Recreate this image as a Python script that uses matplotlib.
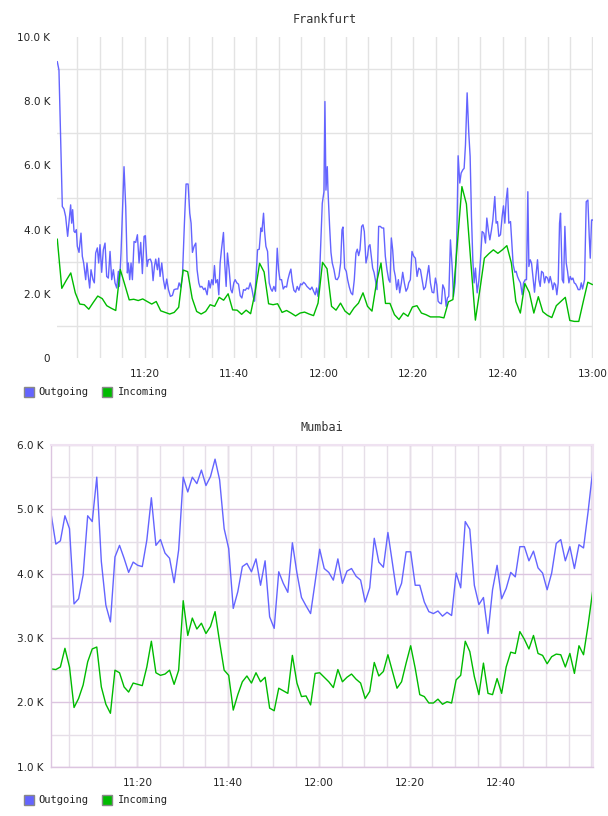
import matplotlib

matplotlib.use("Agg")

import matplotlib.pyplot as plt
import numpy as np
from matplotlib.patches import Rectangle

# ---------------- Frankfurt (minutes after 11:00, values in K) ----------------
fra_out_pts = [
    (0.52, 9.23), (0.89, 8.97), (1.64, 4.72), (2.01, 4.64), (2.38, 4.41), (2.83, 3.79),
    (3.50, 4.77), (3.73, 4.20), (3.95, 4.62), (4.25, 3.95), (4.47, 3.91), (4.77, 4.00),
    (4.99, 3.48), (5.37, 3.29), (5.81, 3.89), (6.11, 3.17), (6.41, 2.96), (6.86, 2.44),
    (7.15, 2.96), (7.45, 2.54), (7.75, 2.18), (8.05, 2.75), (8.49, 2.44), (8.79, 2.34),
    (9.09, 3.27), (9.46, 3.43), (9.76, 2.96), (10.06, 3.53), (10.43, 2.67), (10.80, 3.37),
    (11.18, 3.58), (11.55, 2.54), (11.92, 2.49), (12.30, 3.32), (12.67, 2.44), (13.04, 2.75),
    (13.41, 2.34), (13.79, 2.18), (14.16, 2.70), (14.38, 2.23), (14.75, 3.27), (15.42, 5.96),
    (15.80, 4.71), (16.17, 2.65), (16.39, 2.96), (16.69, 2.44), (16.99, 2.96), (17.29, 2.44),
    (17.66, 3.63), (18.03, 3.60), (18.41, 3.84), (18.78, 2.96), (19.15, 3.60), (19.52, 2.63),
    (19.90, 3.79), (20.19, 3.81), (20.57, 2.85), (20.86, 3.06), (21.31, 3.08), (21.61, 2.96),
    (21.91, 2.41), (22.21, 2.85), (22.50, 3.08), (22.88, 2.75), (23.17, 3.11), (23.47, 2.54),
    (23.85, 2.96), (24.22, 2.44), (24.59, 2.15), (24.96, 2.46), (25.34, 2.13), (25.78, 1.92),
    (26.23, 1.95), (26.60, 2.13), (27.05, 2.15), (27.42, 2.15), (27.72, 2.34), (28.09, 2.21),
    (28.47, 2.54), (28.91, 4.20), (29.28, 5.42), (29.73, 5.42), (30.10, 4.51), (30.40, 4.20),
    (30.70, 3.29), (31.07, 3.48), (31.45, 3.58), (31.74, 2.75), (32.12, 2.34), (32.41, 2.21),
    (32.79, 2.23), (33.23, 2.13), (33.53, 2.18), (33.98, 1.97), (34.35, 2.41), (34.65, 2.18),
    (35.02, 2.44), (35.32, 2.28), (35.62, 2.88), (35.92, 2.34), (36.29, 2.44), (36.59, 1.97),
    (36.89, 2.96), (37.18, 3.37), (37.63, 3.91), (37.93, 2.91), (38.23, 2.23), (38.52, 3.27),
    (38.90, 2.75), (39.27, 2.13), (39.57, 2.03), (39.94, 2.34), (40.24, 2.44),
    (40.62, 2.34), (40.99, 2.30), (41.37, 1.94), (41.74, 1.87), (42.11, 2.13), (42.49, 2.11),
    (42.86, 2.18), (43.23, 2.15), (43.60, 2.34), (43.98, 2.15), (44.35, 1.87), (44.57, 1.77),
    (44.87, 2.44), (45.24, 3.37), (45.62, 3.39), (45.99, 4.05), (46.21, 3.94), (46.58, 4.51),
    (46.81, 3.94), (47.11, 3.48), (47.48, 3.32), (47.85, 2.34), (48.22, 2.15), (48.52, 2.08),
    (48.89, 2.23), (49.27, 2.08), (49.64, 3.42), (49.94, 2.75), (50.24, 2.44), (50.61, 2.44),
    (50.98, 2.15), (51.35, 2.23), (51.73, 2.21), (52.02, 2.44), (52.40, 2.65), (52.69, 2.77),
    (52.99, 2.39), (53.36, 2.11), (53.74, 2.05), (54.11, 2.23), (54.48, 2.11), (54.85, 2.31),
    (55.15, 2.28), (55.53, 2.36), (55.90, 2.31), (56.27, 2.23), (56.64, 2.18), (57.02, 2.13),
    (57.39, 2.21), (57.76, 2.08), (58.13, 1.97), (58.43, 2.18), (58.73, 1.92), (59.03, 2.34),
    (59.33, 3.48), (59.70, 4.82), (60.07, 5.18), (60.29, 7.99), (60.52, 5.23), (60.82, 5.96),
    (60.97, 5.23), (61.34, 4.09), (61.64, 3.29), (61.93, 2.96), (62.31, 2.75), (62.68, 2.46),
    (63.05, 2.44), (63.42, 2.54), (63.80, 2.96), (64.10, 3.99), (64.32, 4.08), (64.69, 2.80),
    (65.06, 2.70), (65.36, 2.44), (65.73, 2.21), (66.11, 2.03), (66.48, 1.97), (66.85, 2.44),
    (67.22, 3.27), (67.52, 3.39), (67.82, 3.19), (68.12, 3.37), (68.49, 4.10), (68.79, 4.15),
    (69.09, 3.94), (69.46, 2.96), (69.83, 3.20), (70.06, 3.48), (70.35, 3.53), (70.65, 3.17),
    (70.95, 2.80), (71.25, 2.67), (71.55, 2.44), (71.92, 2.13), (72.29, 4.10), (72.66, 4.10),
    (73.04, 4.05), (73.41, 4.05), (73.78, 3.17), (74.15, 2.75), (74.53, 2.44), (74.83, 2.36),
    (75.12, 3.74), (75.42, 3.37), (75.72, 2.75), (76.02, 2.54), (76.32, 2.13), (76.69, 2.44),
    (76.99, 2.03), (77.36, 2.34), (77.66, 2.67), (78.03, 2.34), (78.40, 2.08), (78.77, 2.18),
    (79.00, 2.34), (79.37, 2.44), (79.74, 3.32), (80.12, 3.17), (80.49, 3.11),
    (80.87, 2.54), (81.25, 2.80), (81.62, 2.75), (81.99, 2.45), (82.36, 2.13), (82.74, 2.21),
    (83.11, 2.54), (83.48, 2.88), (83.85, 2.34), (84.23, 2.05), (84.60, 2.03), (84.97, 2.49),
    (85.27, 2.28), (85.57, 1.77), (85.94, 1.71), (86.31, 1.69), (86.61, 2.28), (86.98, 2.15),
    (87.36, 1.61), (87.65, 1.87), (87.95, 1.92), (88.32, 3.68), (88.70, 2.85), (88.99, 1.92),
    (89.37, 2.34), (89.74, 3.68), (90.04, 6.30), (90.41, 5.45), (90.71, 5.76), (91.08, 5.86),
    (91.38, 5.91), (91.68, 6.64), (92.05, 8.26), (92.42, 7.00), (92.72, 6.28), (93.02, 4.41),
    (93.32, 3.06), (93.61, 2.34), (93.91, 2.80), (94.29, 2.03), (94.66, 2.40), (95.03, 3.06),
    (95.40, 3.94), (95.78, 3.89), (96.15, 3.58), (96.45, 4.36), (96.82, 3.94), (97.12, 3.68),
    (97.49, 3.99), (97.79, 4.30), (98.23, 5.03), (98.53, 4.20), (98.83, 4.25), (99.13, 3.79),
    (99.50, 3.84), (99.87, 4.41), (100.17, 4.74), (100.47, 4.20), (100.77, 4.92), (101.07, 5.29),
    (101.36, 4.20), (101.74, 4.25), (102.04, 3.58), (102.33, 2.91), (102.71, 2.67), (103.00, 2.70),
    (103.30, 2.54), (103.60, 2.44), (103.97, 2.34), (104.35, 1.97), (104.64, 2.34), (105.02, 2.44),
    (105.31, 2.44), (105.61, 5.18), (105.84, 2.85), (106.13, 3.06), (106.43, 2.96), (106.80, 2.44),
    (107.10, 2.05), (107.40, 2.54), (107.77, 3.06), (108.07, 2.44), (108.37, 2.23), (108.67, 2.70),
    (109.04, 2.65), (109.34, 2.34), (109.64, 2.54), (110.01, 2.49), (110.31, 2.34), (110.60, 2.54),
    (110.90, 2.36), (111.20, 2.13), (111.50, 2.34), (111.80, 2.28), (112.09, 1.97), (112.39, 2.34),
    (112.69, 4.20), (112.91, 4.51), (113.29, 2.44), (113.59, 2.34), (113.88, 4.10), (114.18, 2.96),
    (114.48, 2.70), (114.78, 2.34), (115.08, 2.54), (115.37, 2.44), (115.67, 2.49), (115.97, 2.34),
    (116.27, 2.31), (116.57, 2.23), (116.86, 2.13), (117.24, 2.13), (117.54, 2.34), (117.83, 2.15),
    (118.28, 2.44), (118.65, 4.87), (119.02, 4.92), (119.32, 3.79), (119.55, 3.11), (119.84, 4.30),
    (120.05, 4.30),
]

fra_in = [
    3.70, 2.17, 2.42, 2.65, 2.03, 1.68, 1.66, 1.52, 1.73, 1.93,
    1.85, 1.63, 1.55, 1.48, 2.76, 2.29, 1.81, 1.83, 1.79, 1.84,
    1.76, 1.68, 1.76, 1.47, 1.42, 1.37, 1.42, 1.58, 2.74, 2.69,
    1.86, 1.45, 1.37, 1.45, 1.66, 1.61, 1.89, 1.80, 2.00, 1.50,
    1.49, 1.36, 1.49, 1.38, 2.05, 2.95, 2.68, 1.69, 1.66, 1.69,
    1.42, 1.48, 1.40, 1.31, 1.40, 1.43, 1.37, 1.32, 1.71, 2.98,
    2.78, 1.61, 1.49, 1.71, 1.46, 1.35, 1.56, 1.71, 2.03, 1.61,
    1.46, 2.34, 2.96, 1.70, 1.70, 1.35, 1.20, 1.40, 1.30, 1.59,
    1.63, 1.40, 1.35, 1.28, 1.28, 1.28, 1.25, 1.75, 1.82, 3.58,
    5.34, 4.80, 2.96, 1.18, 2.13, 3.11, 3.25, 3.37, 3.26, 3.37,
    3.50, 2.96, 1.76, 1.40, 2.32, 2.04, 1.40, 1.91, 1.44, 1.33,
    1.26, 1.63, 1.76, 1.89, 1.17, 1.14, 1.14, 1.76, 2.36, 2.29,
]
fra_in_start, fra_in_end = 0.52, 120.0

fra_xticks = [20, 40, 60, 80, 100, 120]
fra_xlabels = ["11:20", "11:40", "12:00", "12:20", "12:40", "13:00"]
fra_yticks = [0, 2, 4, 6, 8, 10]
fra_ylabels = ["0", "2.0 K", "4.0 K", "6.0 K", "8.0 K", "10.0 K"]

# ---------------- Mumbai (one point per minute, values in K) ----------------
mum_out = [
    4.91, 4.46, 4.51, 4.90, 4.70, 3.53, 3.61, 3.98, 4.90, 4.81,
    5.50, 4.19, 3.51, 3.25, 4.26, 4.44, 4.24, 4.02, 4.18, 4.13,
    4.11, 4.52, 5.18, 4.44, 4.53, 4.32, 4.24, 3.86, 4.37, 5.50,
    5.27, 5.50, 5.40, 5.61, 5.37, 5.51, 5.78, 5.46, 4.70, 4.39,
    3.46, 3.72, 4.11, 4.16, 4.03, 4.23, 3.82, 4.20, 3.33, 3.15,
    4.03, 3.85, 3.71, 4.48, 4.01, 3.63, 3.50, 3.38, 3.87, 4.38,
    4.08, 4.02, 3.90, 4.23, 3.85, 4.04, 4.08, 3.96, 3.90, 3.56,
    3.78, 4.55, 4.18, 4.10, 4.64, 4.16, 3.67, 3.85, 4.34, 4.34,
    3.82, 3.82, 3.56, 3.41, 3.38, 3.42, 3.34, 3.40, 3.35, 4.01,
    3.78, 4.81, 4.69, 3.82, 3.52, 3.63, 3.07, 3.75, 4.13, 3.61,
    3.77, 4.02, 3.95, 4.42, 4.42, 4.20, 4.35, 4.09, 4.01, 3.75,
    4.01, 4.47, 4.53, 4.20, 4.42, 4.08, 4.45, 4.40, 4.96, 5.59,
]
mum_in = [
    2.52, 2.51, 2.55, 2.84, 2.55, 1.92, 2.06, 2.27, 2.63, 2.83,
    2.86, 2.24, 1.97, 1.83, 2.50, 2.46, 2.24, 2.16, 2.30, 2.28,
    2.26, 2.55, 2.95, 2.46, 2.42, 2.44, 2.50, 2.28, 2.50, 3.58,
    3.04, 3.31, 3.14, 3.23, 3.07, 3.18, 3.41, 2.94, 2.50, 2.42,
    1.88, 2.12, 2.32, 2.41, 2.30, 2.46, 2.32, 2.39, 1.91, 1.87,
    2.22, 2.18, 2.14, 2.73, 2.30, 2.09, 2.10, 1.96, 2.45, 2.46,
    2.39, 2.32, 2.23, 2.51, 2.32, 2.39, 2.44, 2.36, 2.30, 2.06,
    2.17, 2.62, 2.41, 2.48, 2.74, 2.48, 2.22, 2.32, 2.61, 2.88,
    2.53, 2.12, 2.09, 1.99, 1.99, 2.05, 1.97, 2.01, 1.99, 2.35,
    2.42, 2.95, 2.79, 2.40, 2.12, 2.61, 2.14, 2.12, 2.37, 2.14,
    2.55, 2.78, 2.76, 3.10, 2.98, 2.83, 3.04, 2.76, 2.73, 2.60,
    2.71, 2.75, 2.74, 2.55, 2.76, 2.45, 2.88, 2.74, 3.20, 3.72,
]
mum_start, mum_end = 1.05, 120.3

mum_xticks = [20, 40, 60, 80, 100]
mum_xlabels = ["11:20", "11:40", "12:00", "12:20", "12:40"]
mum_yticks = [1, 2, 3, 4, 5, 6]
mum_ylabels = ["1.0 K", "2.0 K", "3.0 K", "4.0 K", "5.0 K", "6.0 K"]

legend_labels = ["Outgoing", "Incoming"]
OUT_COLOR = "#6464ff"
IN_COLOR = "#00bb00"
MONO = "DejaVu Sans Mono"

W, H = 608, 816
fig = plt.figure(figsize=(W / 100, H / 100), dpi=100)


def px_axes(left, top, right, bottom):
    return fig.add_axes([left / W, 1 - bottom / H, (right - left) / W, (bottom - top) / H])


def legend(y_px):
    for (x_box, x_txt), label, color in zip([(24, 38), (102, 118)], legend_labels, [OUT_COLOR, IN_COLOR]):
        fig.add_artist(Rectangle((x_box / W, 1 - (y_px + 5) / H), 10 / W, 10 / H,
                                 transform=fig.transFigure, facecolor=color,
                                 edgecolor="#888888", linewidth=1.0))
        fig.text(x_txt / W, 1 - y_px / H, label, family=MONO, fontsize=7.5,
                 color="#222222", va="center", ha="left")


def style_ticks(ax, xticks, xlabels, yticks, ylabels):
    ax.set_xticks(xticks)
    ax.set_xticklabels(xlabels)
    ax.set_yticks(yticks)
    ax.set_yticklabels(ylabels)
    ax.tick_params(axis="both", which="both", length=0, labelsize=7.5, colors="#222222")
    ax.tick_params(axis="x", pad=8)
    ax.tick_params(axis="y", pad=5)
    ax.xaxis.remove_overlapping_locs = False
    ax.set_axisbelow(True)


# ---------------- Frankfurt panel ----------------
ax1 = px_axes(57.3, 37, 592.5, 358)
t_out = [p[0] for p in fra_out_pts]
v_out = [p[1] for p in fra_out_pts]
t_in = np.linspace(fra_in_start, fra_in_end, len(fra_in))
ax1.plot(t_out, v_out, color=OUT_COLOR, lw=1.0)
ax1.plot(t_in, fra_in, color=IN_COLOR, lw=1.0)
ax1.set_xlim(0.52, 120.05)
ax1.set_ylim(0, 10)
style_ticks(ax1, fra_xticks, fra_xlabels, fra_yticks, fra_ylabels)
ax1.set_xticks(np.arange(5, 121, 5), minor=True)
ax1.set_yticks([1, 3, 5, 7, 9], minor=True)
ax1.grid(False)
ax1.grid(True, which="minor", axis="both", color="#e3e3e3", lw=1.0)
for s in ax1.spines.values():
    s.set_visible(False)
ax1.set_title("Frankfurt", family=MONO, fontsize=8.5, color="#333333", pad=10)
legend(392)

# ---------------- Mumbai panel ----------------
ax2 = px_axes(50.7, 445, 593.3, 766.7)
t_m = np.linspace(mum_start, mum_end, len(mum_out))
ax2.axhline(3.5, color="#ececec", lw=2.0, zorder=0.5)
ax2.plot(t_m, mum_out, color=OUT_COLOR, lw=1.0)
ax2.plot(t_m, mum_in, color=IN_COLOR, lw=1.0)
ax2.set_xlim(0.92, 120.45)
ax2.set_ylim(1, 6)
style_ticks(ax2, mum_xticks, mum_xlabels, mum_yticks, mum_ylabels)
ax2.set_xticks(np.arange(5, 121, 5), minor=True)
ax2.set_yticks(np.arange(1.5, 6, 1.0), minor=True)
ax2.grid(True, which="minor", axis="both", color="#e6dfe8", lw=1.0)
ax2.grid(True, which="major", axis="both", color="#dcc5e0", lw=1.0)
for name, s in ax2.spines.items():
    s.set_color("#efe2f1" if name in ("top", "right") else "#dcc5e0")
    s.set_linewidth(1.5 if name in ("top", "right") else 1.0)
ax2.set_title("Mumbai", family=MONO, fontsize=8.5, color="#333333", pad=10)
legend(800)

fig.savefig("out.png", dpi=100)
plt.close(fig)
